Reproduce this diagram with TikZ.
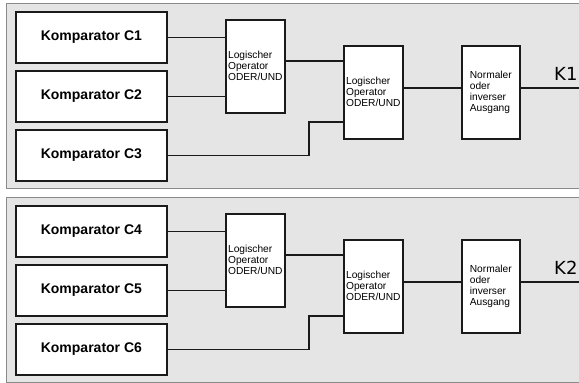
\documentclass[tikz,border=0pt]{standalone}
\usepackage{fontspec}
\setmainfont{Liberation Sans}
\newfontfamily\kfont{DejaVu Sans}
\definecolor{panelbg}{HTML}{E5E5E5}
\definecolor{panelline}{HTML}{8A8A8A}
\definecolor{ink}{HTML}{1A1A1A}
\begin{document}
\begin{tikzpicture}[x=1pt,y=-1pt,
  panel/.style={fill=panelbg,draw=panelline,line width=1pt},
  kbox/.style={draw=ink,fill=white,line width=1.8pt,minimum width=151pt,minimum height=51pt,anchor=north west,inner sep=0pt,font=\fontsize{14}{16}\selectfont\bfseries},
  lbox/.style={draw=ink,fill=white,line width=1.6pt,minimum width=59pt,minimum height=93pt,anchor=north west,inner sep=0pt,align=left,font=\fontsize{10.2}{11}\selectfont},
  wire/.style={draw=ink,line width=1.6pt},
  klabel/.style={anchor=base west,inner sep=0pt,font=\kfont\fontsize{18}{20}\selectfont}]
\useasboundingbox (0,0) rectangle (579,383);
\foreach \dy/\a/\b/\c/\k in {0/1/2/3/1, 194/4/5/6/2}{
  \begin{scope}[yshift=-\dy pt]
  \fill[panelbg] (6,3) rectangle (590,188);
  \draw[panelline,line width=1pt] (590,3) -- (6,3) -- (6,188) -- (590,188);
  \node[kbox] (c\a) at (15,11) {Komparator C\a};
  \node[kbox] (c\b) at (15,70) {Komparator C\b};
  \node[kbox] (c\c) at (15,129) {Komparator C\c};
  \node[lbox] (la\k) at (225,19) {Logischer\\Operator\\ODER/UND};
  \node[lbox] (lb\k) at (343,45) {Logischer\\Operator\\ODER/UND};
  \node[lbox,minimum width=58pt] (n\k) at (461,45) {Normaler\\oder\\inverser\\Ausgang};
  \coordinate (j\k) at (309,122);
  \coordinate (o\k) at (585,88);
  \draw[wire] (c\a.east) -- (c\a.east -| la\k.west);
  \draw[wire] (c\b.east) -- (c\b.east -| la\k.west);
  \draw[wire] (c\c.east) -| (j\k) -- (j\k -| lb\k.west);
  \draw[wire] (la\k.east |- 0,61) -- (lb\k.west |- 0,61);
  \draw[wire] (lb\k.east |- 0,88) -- (n\k.west |- 0,88);
  \draw[wire] (n\k.east |- 0,88) -- (o\k);
  \node[klabel] (kl\k) at (554,80) {K\k};
  \end{scope}
}
\end{tikzpicture}
\end{document}
